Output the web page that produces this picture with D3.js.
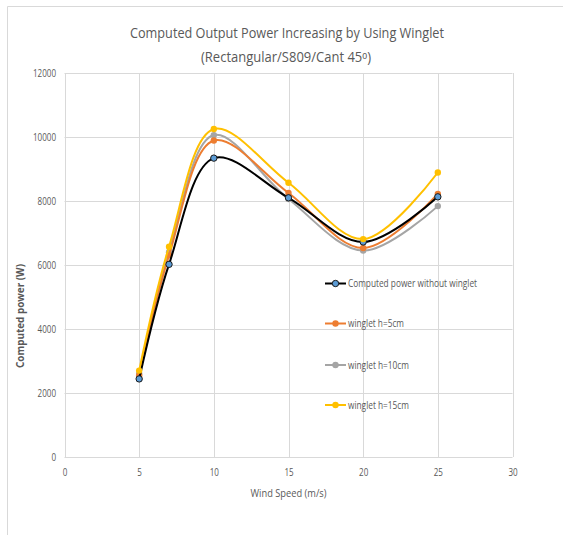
<!DOCTYPE html>
<html>
<head>
<meta charset="utf-8">
<script src="https://cdn.jsdelivr.net/npm/d3@7"></script>
<style>
html,body{margin:0;padding:0;background:#fff;}
svg{display:block;}
text{font-family:"Open Sans","Liberation Sans",sans-serif;fill:#595959;}
</style>
</head>
<body>
<script>
const windSpeed = [5, 7, 10, 15, 20, 25];
const seriesNames = ["Computed power without winglet", "winglet h=5cm", "winglet h=10cm", "winglet h=15cm"];
const noWinglet = [2440, 6020, 9340, 8100, 6720, 8130];
const winglet5 = [2550, 6300, 9890, 8250, 6530, 8220];
const winglet10 = [2600, 6400, 10060, 8060, 6450, 7840];
const winglet15 = [2700, 6570, 10250, 8570, 6810, 8890];
const seriesColors = ["#000000", "#ED7D31", "#A5A5A5", "#FFC000"];
const markerFill = ["#5B9BD5", "#ED7D31", "#A5A5A5", "#FFC000"];
const xTicks = [0, 5, 10, 15, 20, 25, 30];
const yTicks = [0, 2000, 4000, 6000, 8000, 10000, 12000];

const W = 563, H = 535;
const svg = d3.select("body").append("svg").attr("width", W).attr("height", H);

// outer frame
svg.append("line").attr("x1", 7.5).attr("x2", W).attr("y1", 6.5).attr("y2", 6.5).attr("stroke", "#d9d9d9");
svg.append("line").attr("x1", 7.5).attr("x2", 7.5).attr("y1", 6.5).attr("y2", H).attr("stroke", "#d9d9d9");

const x = d3.scaleLinear().domain([0, 30]).range([64.5, 512.5]);
const y = d3.scaleLinear().domain([0, 12000]).range([457, 73]);

// grid
const g = svg.append("g");
g.selectAll(".hg").data(yTicks).join("line")
  .attr("x1", x(0)).attr("x2", x(30))
  .attr("y1", d => Math.round(y(d)) + 0.5).attr("y2", d => Math.round(y(d)) + 0.5)
  .attr("stroke", "#d9d9d9").attr("stroke-width", 1);
g.selectAll(".vg").data(xTicks).join("line")
  .attr("y1", y(0)).attr("y2", y(12000))
  .attr("x1", d => Math.round(x(d)) + 0.5).attr("x2", d => Math.round(x(d)) + 0.5)
  .attr("stroke", "#d9d9d9").attr("stroke-width", 1);

const digitW = 4.6;
// axes via d3
const yAxis = svg.append("g").attr("transform", `translate(${x(0) - 8.5},0)`)
  .call(d3.axisLeft(y).tickValues(yTicks).tickSize(0).tickPadding(0).tickFormat(d3.format("d")));
yAxis.select(".domain").remove();
yAxis.selectAll("text").attr("font-size", 10).attr("fill", "#595959")
  .attr("textLength", d => String(d).length * digitW).attr("lengthAdjust", "spacingAndGlyphs");

const xAxis = svg.append("g").attr("transform", `translate(0,${y(0) + 12})`)
  .call(d3.axisBottom(x).tickValues(xTicks).tickSize(0).tickPadding(0).tickFormat(d3.format("d")));
xAxis.select(".domain").remove();
xAxis.selectAll("text").attr("font-size", 10).attr("fill", "#595959")
  .attr("textLength", d => String(d).length * digitW).attr("lengthAdjust", "spacingAndGlyphs");

// titles
svg.append("text").attr("x", 287).attr("y", 38).attr("text-anchor", "middle")
  .attr("font-size", 15).attr("fill", "#595959")
  .attr("textLength", 314).attr("lengthAdjust", "spacingAndGlyphs")
  .text("Computed Output Power Increasing by Using Winglet");
svg.append("text").attr("x", 286).attr("y", 62).attr("text-anchor", "middle")
  .attr("font-size", 15).attr("fill", "#595959")
  .attr("textLength", 170).attr("lengthAdjust", "spacingAndGlyphs")
  .text("(Rectangular/S809/Cant 45\u1D52)");

svg.append("text").attr("x", 288.5).attr("y", 497).attr("text-anchor", "middle")
  .attr("font-size", 11).attr("textLength", 76).attr("lengthAdjust", "spacingAndGlyphs")
  .text("Wind Speed (m/s)");

svg.append("text").attr("transform", "translate(24,316) rotate(-90)").attr("text-anchor", "middle")
  .attr("font-size", 11).attr("font-weight", "bold")
  .attr("textLength", 104).attr("lengthAdjust", "spacingAndGlyphs")
  .text("Computed power (W)");

// series
const allSeries = [noWinglet, winglet5, winglet10, winglet15];
const line = d3.line().x(d => x(d[0])).y(d => y(d[1])).curve(d3.curveCatmullRom.alpha(0.5));
const order = [2, 1, 0, 3];
order.forEach(i => {
  const pts = windSpeed.map((w, k) => [w, allSeries[i][k]]);
  svg.append("path").datum(pts).attr("d", line).attr("fill", "none")
    .attr("stroke", seriesColors[i]).attr("stroke-width", 2);
  svg.selectAll(null).data(pts).join("circle")
    .attr("cx", d => x(d[0])).attr("cy", d => y(d[1])).attr("r", 3.2)
    .attr("fill", markerFill[i]).attr("stroke", i === 0 ? "#1a1a1a" : "none").attr("stroke-width", 1);
});

// legend
const legY = [283.5, 323.5, 365, 405];
const legW = [129, 56, 61, 61];
const leg = svg.append("g");
seriesNames.forEach((name, i) => {
  leg.append("line").attr("x1", 325).attr("x2", 346).attr("y1", legY[i]).attr("y2", legY[i])
    .attr("stroke", seriesColors[i]).attr("stroke-width", 2);
  leg.append("circle").attr("cx", 335.5).attr("cy", legY[i]).attr("r", 3.2)
    .attr("fill", markerFill[i]).attr("stroke", i === 0 ? "#1a1a1a" : "none").attr("stroke-width", 1);
  leg.append("text").attr("x", 348).attr("y", legY[i] + 3.5).attr("font-size", 10)
    .attr("textLength", legW[i]).attr("lengthAdjust", "spacingAndGlyphs")
    .text(name);
});
</script>
</body>
</html>
